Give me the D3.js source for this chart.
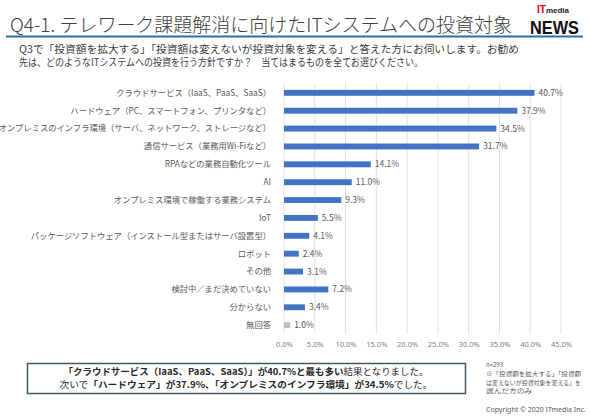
<!DOCTYPE html>
<html>
<head>
<meta charset="utf-8">
<script src="https://cdn.jsdelivr.net/npm/d3@7"></script>
<style>
  body { margin: 0; background: #fff; }
  svg { display: block; font-family: "Noto Sans CJK JP", "Noto Sans", sans-serif; }
  .lbl { font-size: 8.3px; fill: #595959; }
  .val { font-size: 8.5px; fill: #595959; }
  .tick text { font-size: 7.5px; fill: #7f7f7f; font-family: "Noto Sans", sans-serif; }
</style>
</head>
<body>
<script>
// data
var categories = [
  "クラウドサービス（IaaS、PaaS、SaaS）",
  "ハードウェア（PC、スマートフォン、プリンタなど）",
  "オンプレミスのインフラ環境（サーバ、ネットワーク、ストレージなど）",
  "通信サービス（業務用Wi-Fiなど）",
  "RPAなどの業務自動化ツール",
  "AI",
  "オンプレミス環境で稼働する業務システム",
  "IoT",
  "パッケージソフトウェア（インストール型またはサーバ設置型）",
  "ロボット",
  "その他",
  "検討中／まだ決めていない",
  "分からない",
  "無回答"
];
var values = [40.7, 37.9, 34.5, 31.7, 14.1, 11.0, 9.3, 5.5, 4.1, 2.4, 3.1, 7.2, 3.4, 1.0];
var ticks = [0, 5, 10, 15, 20, 25, 30, 35, 40, 45];

var titleText = "Q4-1. テレワーク課題解消に向けたITシステムへの投資対象";
var questionLines = [
  "Q3で「投資額を拡大する」「投資額は変えないが投資対象を変える」と答えた方にお伺いします。お勧め",
  "先は、どのようなITシステムへの投資を行う方針ですか？　当てはまるものを全てお選びください。"
];
// summary lines, [text, bold?]
var summary1 = [["「クラウドサービス（IaaS、PaaS、SaaS）」が40.7%と最も多い", true], ["結果となりました。", false]];
var summary2 = [["次いで", false], ["「ハードウェア」が37.9%、「オンプレミスのインフラ環境」が34.5%", true], ["でした。", false]];
var notes = ["n=293", "※「投資額を拡大する」「投資額", "は変えないが投資対象を変える」を", "選んだ方のみ"];

var w = 590, h = 416;

var svg = d3.select("body").append("svg")
  .attr("width", w)
  .attr("height", h);

// header
svg.append("text")
  .attr("x", 10)
  .attr("y", 32)
  .attr("textLength", 502)
  .attr("lengthAdjust", "spacingAndGlyphs")
  .style("font-size", "19px")
  .style("font-weight", "300")
  .style("fill", "#404040")
  .text(titleText);

svg.append("line")
  .attr("x1", 6).attr("x2", 583)
  .attr("y1", 36.5).attr("y2", 36.5)
  .style("stroke", "#2e6da4")
  .style("stroke-width", 2.2);

// logo
var logo = svg.append("text")
  .attr("x", 537)
  .attr("y", 13)
  .style("font-family", "'Liberation Sans', sans-serif")
  .style("font-weight", "bold");
logo.append("tspan").style("fill", "#e60012").style("font-size", "10px").text("IT");
logo.append("tspan").style("fill", "#222").style("font-size", "8px").text("media");

svg.append("text")
  .attr("x", 530)
  .attr("y", 33.5)
  .attr("textLength", 49)
  .attr("lengthAdjust", "spacingAndGlyphs")
  .style("font-family", "'Liberation Sans', sans-serif")
  .style("font-weight", "bold")
  .style("font-size", "19px")
  .style("fill", "#111")
  .text("NEWS");

svg.selectAll(".q")
  .data(questionLines)
  .enter().append("text")
  .attr("class", "q")
  .attr("x", 19)
  .attr("y", function(d, i) { return 52.5 + i * 13.5; })
  .attr("textLength", function(d, i) { return i == 0 ? 500 : 404; })
  .attr("lengthAdjust", "spacingAndGlyphs")
  .style("font-size", "10.5px")
  .style("fill", "#404040")
  .text(function(d) { return d; });

// chart
var margin = {top: 84, left: 284, right: 561, bottom: 334};

var xScale = d3.scaleLinear()
  .domain([0, 45])
  .range([margin.left, margin.right]);

var yScale = d3.scaleBand()
  .domain(categories)
  .range([margin.top, margin.bottom])
  .paddingInner(0.67)
  .paddingOuter(0.33);

// gridlines
svg.append("g")
  .selectAll("line")
  .data(ticks)
  .enter().append("line")
  .attr("x1", function(d) { return xScale(d); })
  .attr("x2", function(d) { return xScale(d); })
  .attr("y1", margin.top - 1)
  .attr("y2", margin.bottom)
  .style("stroke", "#d9d9d9")
  .style("stroke-width", 0.8);

// x axis
var xAxis = svg.append("g")
  .attr("transform", "translate(0," + (margin.bottom + 3) + ")")
  .call(d3.axisBottom(xScale)
    .tickValues(ticks)
    .tickSize(0)
    .tickFormat(function(d) { return d.toFixed(1) + "%"; }));
xAxis.select(".domain").remove();
xAxis.selectAll("text").attr("dy", "0.95em");

// bars
svg.selectAll(".bar")
  .data(values)
  .enter().append("rect")
  .attr("class", "bar")
  .attr("x", xScale(0))
  .attr("y", function(d, i) { return yScale(categories[i]); })
  .attr("width", function(d) { return xScale(d) - xScale(0); })
  .attr("height", yScale.bandwidth())
  .style("fill", function(d, i) { return i == categories.length - 1 ? "#bfbfbf" : "#4472c4"; });

// value labels
svg.selectAll(".val")
  .data(values)
  .enter().append("text")
  .attr("class", "val")
  .attr("x", function(d) { return xScale(d) + 4; })
  .attr("y", function(d, i) { return yScale(categories[i]) + yScale.bandwidth() / 2; })
  .attr("dy", "0.35em")
  .text(function(d) { return d.toFixed(1) + "%"; });

// category labels
svg.selectAll(".lbl")
  .data(categories)
  .enter().append("text")
  .attr("class", "lbl")
  .attr("x", 271)
  .attr("y", function(d) { return yScale(d) + yScale.bandwidth() / 2; })
  .attr("dy", "0.35em")
  .style("text-anchor", "end")
  .text(function(d) { return d; });

// summary box
svg.append("rect")
  .attr("x", 27.5)
  .attr("y", 363.5)
  .attr("width", 438)
  .attr("height", 30)
  .style("fill", "#fff")
  .style("stroke", "#44546a")
  .style("stroke-width", 1.5);

[summary1, summary2].forEach(function(parts, i) {
  var t = svg.append("text")
    .attr("x", 246)
    .attr("y", 374.5 + i * 13)
    .attr("textLength", i == 0 ? 365 : 373)
    .attr("lengthAdjust", "spacingAndGlyphs")
    .style("text-anchor", "middle")
    .style("font-size", "9px")
    .style("fill", "#262626");
  parts.forEach(function(p) {
    t.append("tspan")
      .style("font-weight", p[1] ? "bold" : "normal")
      .text(p[0]);
  });
});

// notes
svg.selectAll(".note")
  .data(notes)
  .enter().append("text")
  .attr("class", "note")
  .attr("x", 486)
  .attr("y", function(d, i) { return 367 + i * 8.8; })
  .attr("textLength", function(d, i) { return i == 0 ? null : (i == 3 ? 46 : 95); })
  .attr("lengthAdjust", "spacingAndGlyphs")
  .style("font-size", "6px")
  .style("fill", "#595959")
  .text(function(d) { return d; });

svg.append("text")
  .attr("x", 486)
  .attr("y", 412)
  .style("font-size", "7px")
  .style("font-family", "'Noto Sans', sans-serif")
  .style("fill", "#595959")
  .text("Copyright © 2020 ITmedia Inc.");
</script>
</body>
</html>
